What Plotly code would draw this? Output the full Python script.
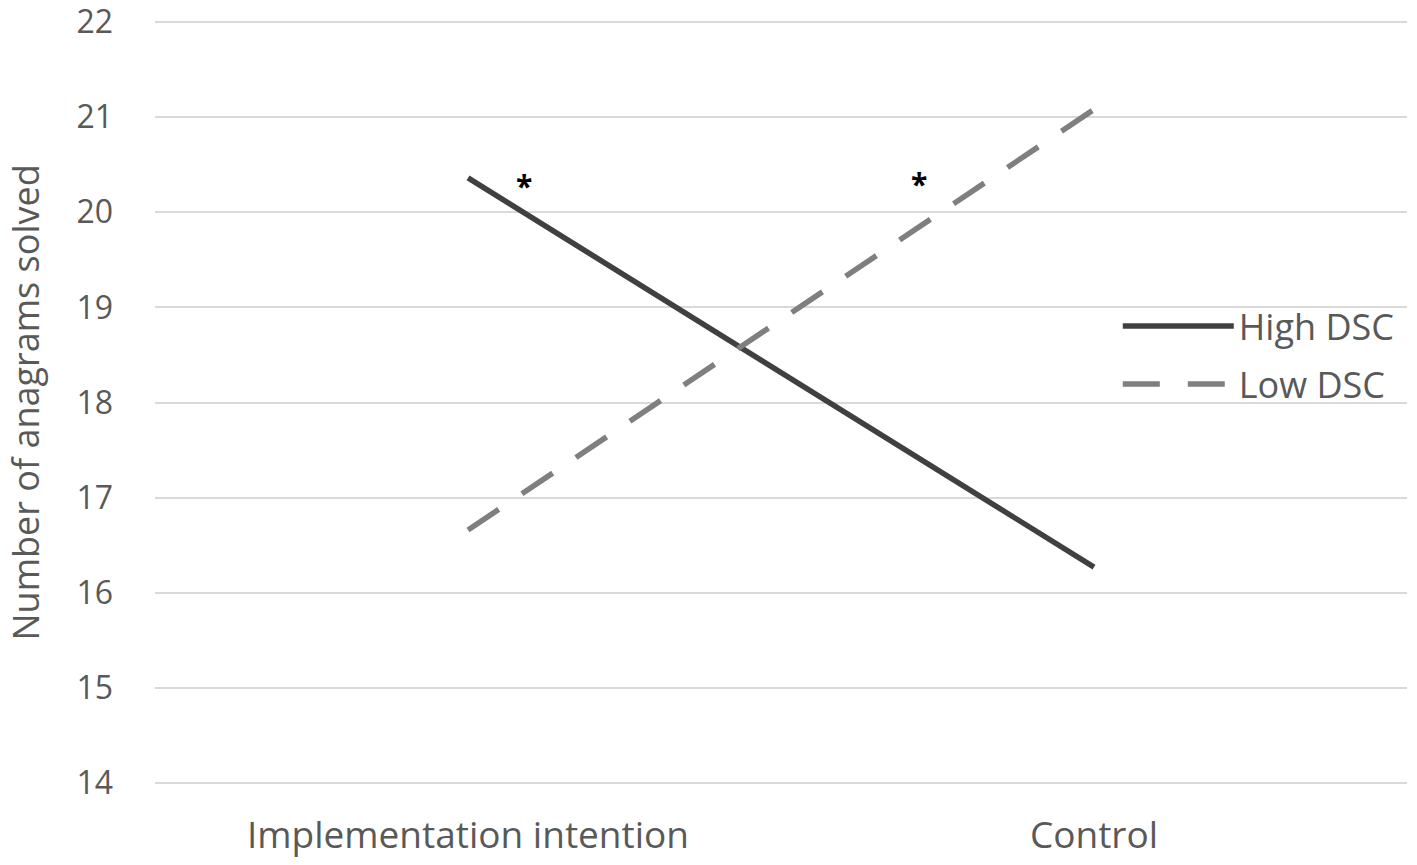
import plotly.graph_objects as go

categories = ["Implementation intention", "Control"]
high_dsc = [20.36, 16.27]
low_dsc = [16.66, 21.08]
y_ticks = [14, 15, 16, 17, 18, 19, 20, 21, 22]
star_x = [0.09, 0.72]
star_y = [20.28, 20.30]

FONT = "Open Sans"
TXT = "#595959"

W, H = 1417, 865
L, R, T, B = 155, 10, 19, 79
plot_h = H - T - B

fig = go.Figure()
fig.add_trace(go.Scatter(x=[0, 1], y=high_dsc, mode="lines", name="High DSC",
                         line=dict(color="#404040", width=5.5), legend="legend"))
fig.add_trace(go.Scatter(x=[0, 1], y=low_dsc, mode="lines", name="Low DSC",
                         line=dict(color="#7f7f7f", width=5.5, dash="37px,28px"),
                         legend="legend2"))

for sx, sy in zip(star_x, star_y):
    fig.add_annotation(x=sx, y=sy, text="<b>*</b>", showarrow=False,
                       font=dict(family=FONT, size=30, color="#000000"),
                       xanchor="center", yanchor="middle")

fig.add_annotation(xref="paper", yref="paper", x=-(L - 25) / (W - L - R), y=0.5,
                   text="Number of anagrams solved", textangle=-90,
                   showarrow=False, xanchor="center", yanchor="middle",
                   font=dict(family=FONT, size=36, color=TXT))

leg_common = dict(xanchor="left", yanchor="middle", bgcolor="rgba(0,0,0,0)",
                  font=dict(family=FONT, size=36, color=TXT), itemwidth=111)

fig.update_layout(
    width=W, height=H,
    paper_bgcolor="white", plot_bgcolor="white",
    margin=dict(l=L, r=R, t=T, b=B, autoexpand=False),
    font=dict(family=FONT, size=32, color=TXT),
    xaxis=dict(range=[-0.5, 1.5], tickmode="array", tickvals=[0, 1], ticktext=categories,
               showgrid=False, zeroline=False, showline=False, ticks="",
               automargin=False, ticklabelstandoff=24, ticklabeloverflow="allow",
               tickfont=dict(family=FONT, size=37, color=TXT)),
    yaxis=dict(range=[13.97, 22.03], tickmode="array", tickvals=y_ticks,
               ticktext=[str(v) for v in y_ticks],
               showgrid=True, gridcolor="#d9d9d9", gridwidth=2, zeroline=False,
               showline=False, ticks="", automargin=False, ticklabelstandoff=41,
               ticklabeloverflow="allow",
               tickfont=dict(family=FONT, size=32, color=TXT)),
    legend=dict(x=0.769, y=1 - (326 - T) / plot_h, **leg_common),
    legend2=dict(x=0.769, y=1 - (384 - T) / plot_h, **leg_common),
    showlegend=True,
)

fig.write_html("out.html", config={"displayModeBar": False},
               post_script="document.body.style.margin='0';")
